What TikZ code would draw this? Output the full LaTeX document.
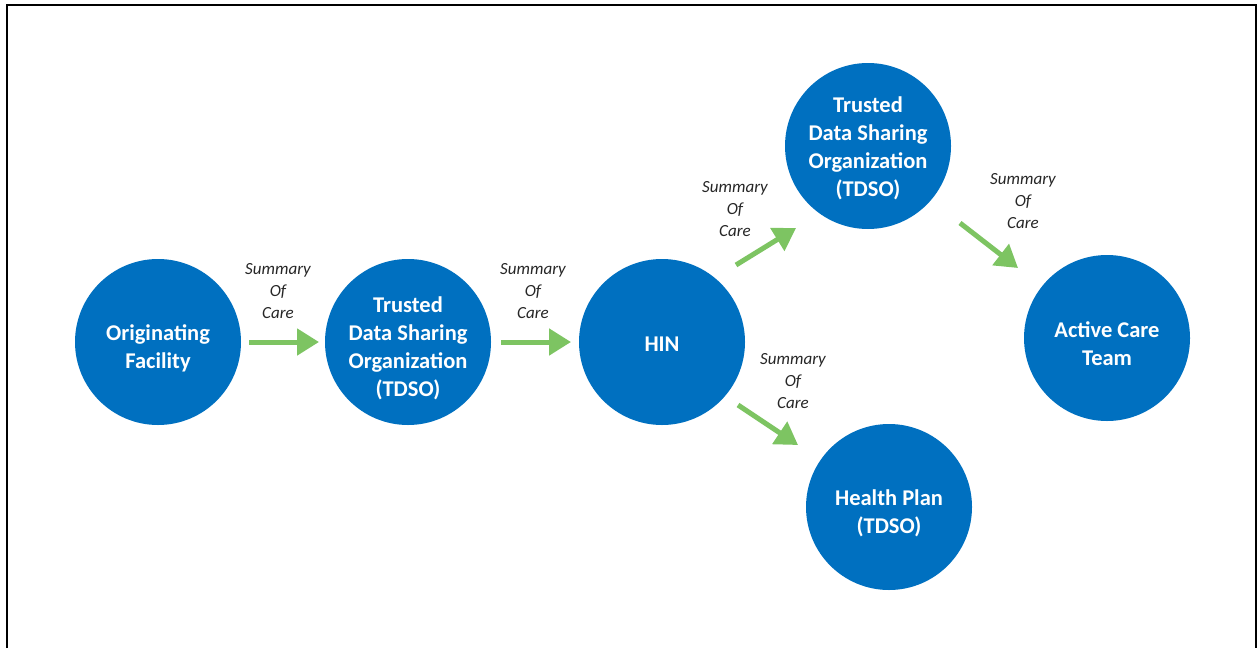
\documentclass[tikz,border=0pt]{standalone}
\usepackage{fontspec}
\setmainfont{Carlito}
\usetikzlibrary{arrows.meta}
\definecolor{nodeblue}{HTML}{0070C0}
\definecolor{arrowgreen}{HTML}{7DC462}
\tikzset{
  entitytext/.style={text=white, align=center, inner sep=0pt, yshift=-6pt,
    font=\fontsize{22.5}{28}\selectfont\bfseries},
  entity/.style={circle, fill=nodeblue, minimum size=166pt, inner sep=0pt,
    label={[entitytext]center:#1}},
  flow/.style={draw=arrowgreen, line width=5pt, -{Triangle[length=22pt,width=26pt]}},
  soc/.style={align=center, font=\fontsize{17}{22}\selectfont\itshape, text=black!85, inner sep=0pt}
}
\begin{document}
\begin{tikzpicture}[x=1pt,y=-1pt]
\useasboundingbox (0,0) rectangle (1257,648);
\draw[line width=2.2pt] (7,648) -- (7,5.3) -- (1255.7,5.3) -- (1255.7,648);

\node[entity={Originating\\Facility}] (orig) at (158,342) {};
\node[entity={Trusted\\Data Sharing\\Organization\\(TDSO)}] (tdso1) at (408,342) {};
\node[circle, fill=nodeblue, minimum size=166pt, inner sep=0pt,
  label={[entitytext, yshift=4pt]center:HIN}] (hin) at (662,342) {};
\node[circle, fill=nodeblue, minimum size=166pt, inner sep=0pt,
  label={[entitytext, yshift=4pt]center:{Trusted\\Data Sharing\\Organization\\(TDSO)}}] (tdso2) at (868,146) {};
\node[entity={Health Plan\\(TDSO)}] (plan) at (889,507) {};
\node[entity={Active Care\\Team}] (team) at (1107,338) {};

\coordinate (a1s) at (249,342); \coordinate (a1e) at (319,342);
\coordinate (a2s) at (501,342); \coordinate (a2e) at (571,342);
\coordinate (a3s) at (736,265); \coordinate (a3e) at (796,228);
\coordinate (a4s) at (738,405); \coordinate (a4e) at (798,445);
\coordinate (a5s) at (960,223); \coordinate (a5e) at (1018,268);

\draw[flow] (a1s) -- (a1e);
\draw[flow] (a2s) -- (a2e);
\draw[flow] (a3s) -- (a3e);
\draw[flow] (a4s) -- (a4e);
\draw[flow] (a5s) -- (a5e);

\node[soc] (l1) at (278,291) {Summary\\Of\\Care};
\node[soc] (l2) at (533,291) {Summary\\Of\\Care};
\node[soc] (l3) at (735,209) {Summary\\Of\\Care};
\node[soc] (l4) at (793,381) {Summary\\Of\\Care};
\node[soc] (l5) at (1023,201) {Summary\\Of\\Care};
\end{tikzpicture}
\end{document}
